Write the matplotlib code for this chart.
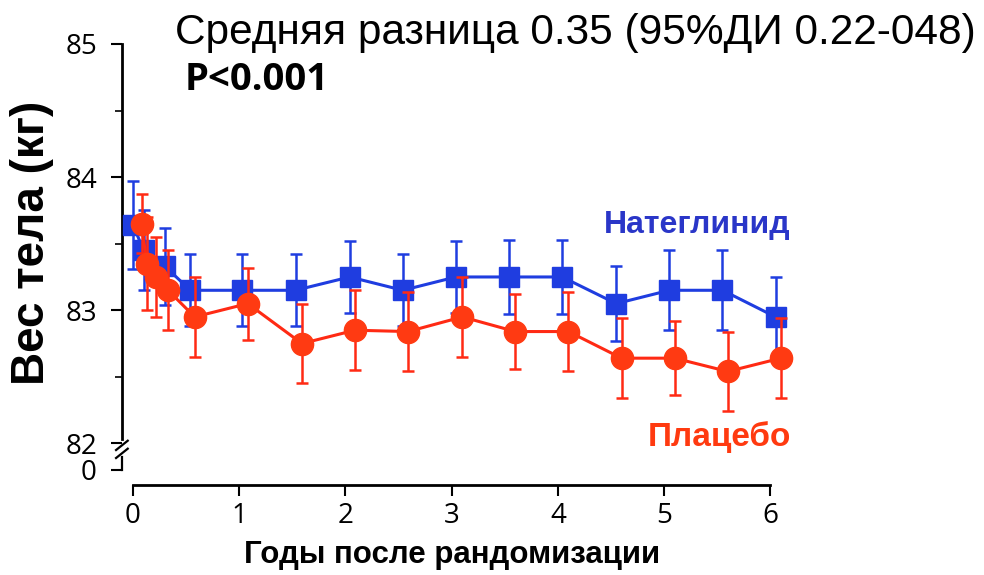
import numpy as np
import matplotlib
matplotlib.use("Agg")
import matplotlib.pyplot as plt

# body weight by visit, kg (mean and 95% CI half-width)
years_nat = [0.0, 0.1, 0.3, 0.54, 1.03, 1.53, 2.04, 2.54, 3.04, 3.54, 4.04, 4.55, 5.05, 5.55, 6.05]
weight_nat = [83.64, 83.45, 83.33, 83.15, 83.15, 83.15, 83.25, 83.15, 83.25, 83.25, 83.25, 83.05, 83.15, 83.15, 82.95]
err_nat = [0.33, 0.3, 0.29, 0.27, 0.27, 0.27, 0.27, 0.27, 0.27, 0.28, 0.28, 0.28, 0.3, 0.3, 0.3]

years_plc = [0.08, 0.13, 0.22, 0.33, 0.58, 1.08, 1.59, 2.09, 2.59, 3.1, 3.6, 4.1, 4.6, 5.1, 5.6, 6.1]
weight_plc = [83.65, 83.35, 83.25, 83.15, 82.95, 83.05, 82.75, 82.85, 82.84, 82.95, 82.84, 82.84, 82.64, 82.64, 82.54, 82.64]
err_plc = [0.22, 0.35, 0.3, 0.3, 0.3, 0.27, 0.3, 0.3, 0.3, 0.3, 0.28, 0.3, 0.3, 0.28, 0.3, 0.3]

x_ticks = [0, 1, 2, 3, 4, 5, 6]
y_ticks = [81.8, 82, 83, 84, 85]
y_ticklabels = ["0", "82", "83", "84", "85"]

BLUE = "#1f3de0"
RED = "#ff2a14"
ORANGE = "#ff3a12"

fig = plt.figure(figsize=(9.84, 5.75), dpi=100)
ax = fig.add_axes([122 / 984, 1 - 470 / 575, (800 - 122) / 984, 426 / 575])

ax.errorbar(years_nat, weight_nat, yerr=err_nat, color=BLUE, ecolor=BLUE,
            lw=2.2, elinewidth=1.8, capsize=4, capthick=1.8,
            marker="s", ms=14, mec=BLUE, mfc=BLUE, zorder=3)
ax.errorbar(years_plc, weight_plc, yerr=err_plc, color=RED, ecolor=RED,
            lw=2.2, elinewidth=1.8, capsize=4, capthick=1.8,
            marker="o", ms=16, mec=ORANGE, mfc=ORANGE, zorder=4)

ax.set_xlim(-0.104, 6.28)
ax.set_ylim(81.8, 85.0)

for s in ["top", "right"]:
    ax.spines[s].set_visible(False)
ax.spines["bottom"].set_bounds(0, 6)
ax.spines["bottom"].set_position(("outward", 11))
ax.spines["left"].set_bounds(82.03, 85)
for s in ["left", "bottom"]:
    ax.spines[s].set_linewidth(2)

# broken y axis: short stub down to zero plus two slashes
kw = dict(color="black", lw=1.6, clip_on=False, zorder=5)
ax.plot([-0.104, -0.104], [81.8, 81.9], **kw)
ax.plot([-0.16, -0.05], [81.95, 82.02], **kw)
ax.plot([-0.16, -0.05], [81.89, 81.96], **kw)

tick_font = dict(family="Open Sans", size=20)
ax.set_xticks(x_ticks)
ax.set_xticklabels([str(t) for t in x_ticks], **tick_font)
ax.set_yticks(y_ticks)
ax.set_yticklabels(y_ticklabels, **tick_font)
ax.set_yticks([82.5, 83.5, 84.5], minor=True)
ax.tick_params(axis="both", which="major", length=8, width=1.5, direction="out", pad=4)
ax.tick_params(axis="y", which="minor", length=5, width=1.2, direction="out")
ax.tick_params(axis="y", pad=10)

fig.text(175 / 984, 1 - 33 / 575, "Средняя разница 0.35 (95%ДИ 0.22-048)",
         family="Liberation Sans", size=30.5, ha="left", va="center")
fig.text(185 / 984, 1 - 80 / 575, "P<0.001", family="Open Sans",
         weight="bold", size=27.5, ha="left", va="center")
fig.text(697 / 984, 1 - 225 / 575, "Натеглинид", family="Liberation Sans",
         weight="bold", size=23, color="#2a36c8", ha="center", va="center")
fig.text(719 / 984, 1 - 437 / 575, "Плацебо", family="Liberation Sans",
         weight="bold", size=24, color="#ff3a10", ha="center", va="center")
fig.text(32 / 984, 1 - 243 / 575, "Вес тела (кг)", family="Liberation Sans",
         weight="bold", size=33, rotation=90, ha="center", va="center")
fig.text(452 / 984, 1 - 555 / 575, "Годы после рандомизации", family="Liberation Sans",
         weight="bold", size=22.5, ha="center", va="center")

fig.savefig("out.png", dpi=100)
